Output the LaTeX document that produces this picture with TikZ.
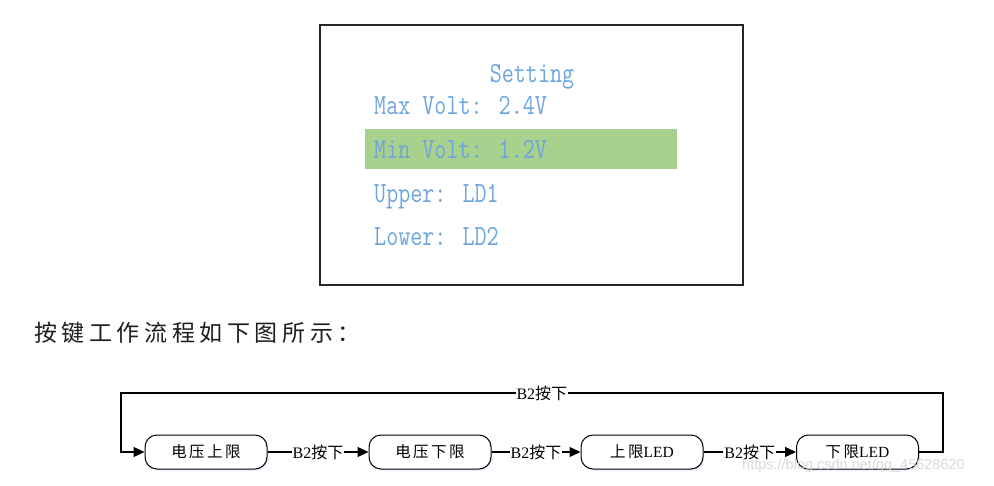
\documentclass[tikz,border=0pt]{standalone}
\usepackage{graphicx}
\usepackage{fontspec}
\setmainfont{Liberation Serif}
\newfontfamily\cjk{Noto Sans CJK SC}
\newfontfamily\cjktitle[LetterSpace=20]{Noto Sans CJK SC}
\newfontfamily\cjkbox[LetterSpace=16]{Noto Sans CJK SC}
\newfontfamily\wmfont{Liberation Sans}
\usetikzlibrary{arrows.meta,shadows}
\definecolor{lcdtext}{RGB}{108,164,222}
\definecolor{selgreen}{RGB}{169,209,142}
\definecolor{titletext}{RGB}{30,30,30}
\newcommand{\lcdtxt}[1]{\scalebox{1}[1.25]{#1}}
\tikzset{
  lcd/.style={anchor=base west, inner sep=0pt, text=lcdtext, font=\ttfamily\fontsize{23.4}{23.4}\selectfont},
  stbox/.style={draw, line width=1pt, rounded corners=12pt, minimum width=122pt, minimum height=34pt,
    fill=white, inner sep=0pt, font=\fontsize{15.5}{15.5}\selectfont,
    drop shadow={opacity=0.18, fill=blue!35, shadow xshift=1.5pt, shadow yshift=-2pt}},
  flow/.style={line width=1.2pt, -{Triangle[length=11pt,width=10pt]}},
  lbl/.style={fill=white, inner sep=1pt, font=\fontsize{16}{16}\selectfont}
}
\begin{document}
\begin{tikzpicture}[x=1pt,y=-1pt]
\useasboundingbox (0,0) rectangle (994,485);
% LCD screen
\draw[line width=1.5pt, draw=black!85] (320,25) rectangle (743,285);
\fill[selgreen] (365,129) rectangle (677,169);
\node[lcd, anchor=base] (set) at (532,82) {\lcdtxt{Setting}};
\node[lcd] (max) at (374,114) {\lcdtxt{Max Volt: 2.4V}};
\node[lcd] (min) at (374,158) {\lcdtxt{Min Volt: 1.2V}};
\node[lcd] (up) at (374,202) {\lcdtxt{Upper: LD1}};
\node[lcd] (low) at (374,245) {\lcdtxt{Lower: LD2}};
% caption
\node[anchor=west, inner sep=0pt, text=titletext, font=\cjktitle\fontsize{23}{23}\selectfont] (cap) at (34,333) {按键工作流程如下图所示：};
% flow
\node[stbox] (b1) at (206,452) {{\cjkbox 电压上限}};
\node[stbox] (b2) at (430,452) {{\cjkbox 电压下限}};
\node[stbox] (b3) at (642,452) {{\cjkbox 上限}LED};
\node[stbox] (b4) at (857.5,452) {{\cjkbox 下限}LED};
\draw[flow] (b1) -- node[lbl] {B2{\cjk 按下}} (b2);
\draw[flow] (b2) -- node[lbl] {B2{\cjk 按下}} (b3);
\draw[flow] (b3) -- node[lbl] {B2{\cjk 按下}} (b4);
\coordinate (tr) at (943,393);
\coordinate (tl) at (121,393);
\draw[flow] (b4.east) -| (tr) -- node[lbl, pos=0.488] {B2{\cjk 按下}} (tl) |- (b1.west);
% watermark
\node[anchor=west, inner sep=0pt, text=black!15, font=\wmfont\fontsize{14.5}{14.5}\selectfont] (wm) at (742,466) {https://blog.csdn.net/qq\_45628620};
\end{tikzpicture}
\end{document}
